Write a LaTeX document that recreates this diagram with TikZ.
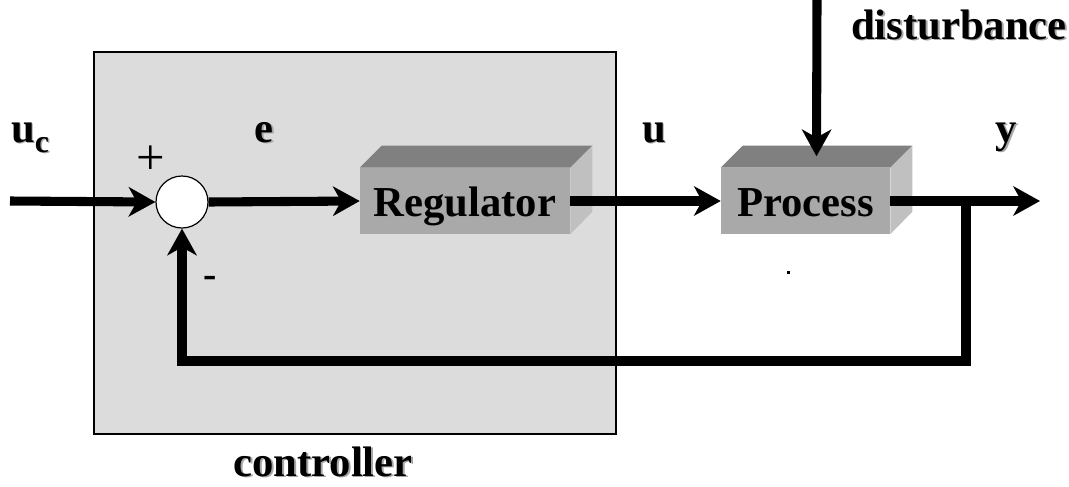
\documentclass[tikz,border=0pt]{standalone}
\usepackage{fontspec}
\setmainfont{Liberation Serif}
\usetikzlibrary{arrows.meta,calc}
\definecolor{panel}{HTML}{DCDCDC}
\definecolor{frontface}{HTML}{A9A9A9}
\definecolor{topface}{HTML}{808080}
\definecolor{sideface}{HTML}{C0C0C0}
% bold label with a soft grey drop shadow
\newcommand\shadowed[1]{\makebox[0pt][l]{\kern1.3pt\raisebox{-1.3pt}{\color{black!35}#1}}#1}
\newcommand\lowsub[1]{\raisebox{-7.5pt}{\fontsize{24}{28}\selectfont #1}}
\tikzset{
  lbl/.style={font=\bfseries\fontsize{32}{36}\selectfont, inner sep=0pt, anchor=base},
  sign/.style={font=\fontsize{38}{42}\selectfont, inner sep=0pt},
  wire/.style={line width=6.8pt},
  sig/.style={wire, -{Stealth[length=20pt,width=22pt,inset=6pt]}},
  block/.style={rectangle, fill=frontface, minimum height=49.5pt, inner sep=0pt,
    text height=24pt, text depth=1.5pt,
    font=\bfseries\fontsize{32}{36}\selectfont},
  topf/.style={fill=topface},
  sidef/.style={fill=sideface},
}
\begin{document}
\begin{tikzpicture}[x=0.75pt,y=-0.75pt]
\useasboundingbox (0,0) rectangle (1069,486);

% controller panel
\node[draw=black, line width=1.3pt, fill=panel, rectangle, inner sep=0pt,
      minimum width=391.5pt, minimum height=286.5pt] (ctrl) at (355,243) {};

% summing junction
\node[draw, circle, fill=white, line width=0.9pt, minimum size=39pt, inner sep=0pt] (sum) at (182,202) {};

% blocks drawn as boxes: front face, then top and side faces
\node[block, minimum width=157.5pt] (reg) at (465,201) {\shadowed{Regulator}};
\fill[topf] (reg.north west) -- ++(22,-22) -- ($(reg.north east)+(22,-22)$) -- (reg.north east) -- cycle;
\fill[sidef] (reg.north east) -- ++(22,-22) -- ++(0,66) -- (reg.south east) -- cycle;

\node[block, minimum width=126.75pt] (proc) at (805.5,201) {\shadowed{Process}};
\fill[topf] (proc.north west) -- ++(22,-22) -- ($(proc.north east)+(22,-22)$) -- (proc.north east) -- cycle;
\fill[sidef] (proc.north east) -- ++(22,-22) -- ++(0,66) -- (proc.south east) -- cycle;

% free ends of the signal lines
\coordinate (in) at (10,201);
\coordinate (out) at (1040,201);
\coordinate (tap) at (966,201);
\coordinate (dist) at (817,0);
\coordinate (distin) at ($(proc.north)+(11,-11.5)$);

% signal flow
\draw[sig] (in) -- (sum.west);
\draw[sig] (sum.east) -- (reg.west);
\draw[sig] (reg.east) -- (proc.west);
\draw[sig] (proc.east) -- (out);
\draw[sig] (dist) -- (distin);
\draw[sig, line join=miter] (tap) |- (182,361) -- (sum.south);

% labels
\node[lbl] (luc) at (30,142) {\shadowed{u\lowsub{c}}};
\node[lbl] (le) at (264,142) {\shadowed{e}};
\node[lbl] (lu) at (654,142) {\shadowed{u}};
\node[lbl] (ly) at (1006,142) {\shadowed{y}};
\node[lbl] (ldist) at (959,39) {\shadowed{disturbance}};
\node[lbl] (lctrl) at (323,476) {\shadowed{controller}};
\node[sign] (plus) at (151,160) {+};
\node[sign, font=\bfseries\fontsize{30}{34}\selectfont] (minus) at (210,282) {-};

% small stray mark
\fill (787,271) rectangle (790,274);
\end{tikzpicture}
\end{document}
